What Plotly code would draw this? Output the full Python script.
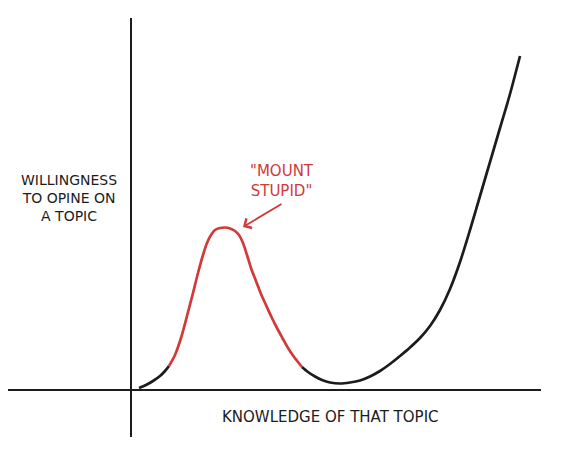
import plotly.graph_objects as go

# Curve data (x = knowledge, y = willingness)
x_rise = [0.08, 0.15, 0.22, 0.29, 0.34, 0.38]
y_rise = [0.02, 0.05, 0.09, 0.14, 0.19, 0.24]

x_stupid = [0.38, 0.44, 0.50, 0.56, 0.62, 0.67, 0.72, 0.76, 0.80, 0.84, 0.89, 0.94, 0.99,
            1.04, 1.08, 1.12, 1.16, 1.20, 1.25, 1.30, 1.35, 1.40, 1.46, 1.52, 1.57, 1.62,
            1.67, 1.71]
y_stupid = [0.24, 0.35, 0.52, 0.74, 0.97, 1.17, 1.35, 1.47, 1.55, 1.60, 1.62, 1.625, 1.615,
            1.59, 1.55, 1.47, 1.35, 1.22, 1.09, 0.96, 0.85, 0.74, 0.62, 0.51, 0.42, 0.345,
            0.28, 0.23]

x_valley = [1.71, 1.77, 1.84, 1.91, 1.99, 2.09, 2.19, 2.29, 2.39, 2.49, 2.59, 2.69, 2.79,
            2.89, 2.99, 3.09, 3.19, 3.29, 3.39, 3.49, 3.59, 3.69, 3.79, 3.89]
y_valley = [0.23, 0.18, 0.135, 0.10, 0.075, 0.065, 0.075, 0.095, 0.135, 0.19, 0.26, 0.34,
            0.425, 0.52, 0.64, 0.80, 1.01, 1.28, 1.60, 1.94, 2.28, 2.62, 2.96, 3.34]

y_label = "WILLINGNESS<br>TO OPINE ON<br>A TOPIC"
x_label = "KNOWLEDGE OF THAT TOPIC"
peak_label = "\"MOUNT<br>STUPID\""

BLACK = "#1c1c1c"
RED = "#d23a3a"
FONT = "DejaVu Sans"

fig = go.Figure()
for xs, ys, col in [(x_rise, y_rise, BLACK), (x_stupid, y_stupid, RED), (x_valley, y_valley, BLACK)]:
    fig.add_trace(go.Scatter(x=xs, y=ys, mode="lines",
                             line=dict(color=col, width=2.7, shape="spline", smoothing=0.8),
                             hoverinfo="skip", cliponaxis=False))

# helpers (window pixels): x data = (px-131)/100, y data = (390-py)/100
ann = [
    dict(x=(69 - 131) / 100, y=(390 - 198) / 100, text=y_label,
         showarrow=False, xanchor="center", yanchor="middle", align="center",
         font=dict(family=FONT, size=14, color=BLACK)),
    dict(x=(330 - 131) / 100, y=(390 - 417) / 100, text=x_label,
         showarrow=False, xanchor="center", yanchor="middle",
         font=dict(family=FONT, size=15, color=BLACK)),
    dict(x=(282 - 131) / 100, y=(390 - 181) / 100, text=peak_label,
         showarrow=False, xanchor="center", yanchor="middle", align="center",
         font=dict(family=FONT, size=15, color=RED)),
    dict(x=(243 - 131) / 100, y=(390 - 227) / 100, text="",
         showarrow=True, ax=40, ay=-24, arrowhead=4, arrowsize=1.2,
         arrowwidth=1.8, arrowcolor=RED),
]

# page body has an 8px margin: figure pixel = window pixel - 8
fig.update_layout(
    width=566, height=444,
    margin=dict(l=0, r=33, t=10, b=15, pad=0),
    paper_bgcolor="white", plot_bgcolor="white",
    showlegend=False,
    annotations=ann,
    xaxis=dict(range=[-1.23, 4.10], showgrid=False, showticklabels=False, ticks="",
               zeroline=True, zerolinecolor=BLACK, zerolinewidth=2.4, fixedrange=True),
    yaxis=dict(range=[-0.47, 3.72], showgrid=False, showticklabels=False, ticks="",
               zeroline=True, zerolinecolor=BLACK, zerolinewidth=2.4, fixedrange=True),
)

fig.write_html("out.html")
